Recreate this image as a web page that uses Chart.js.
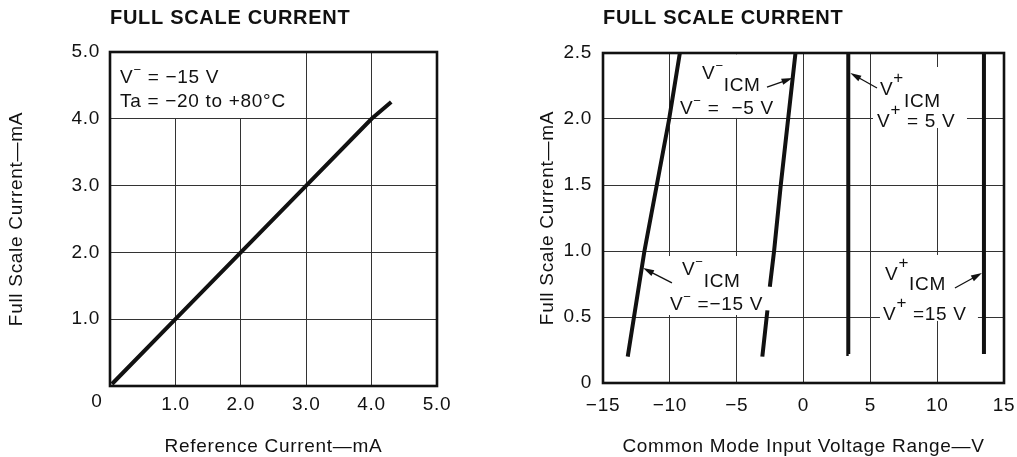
<!DOCTYPE html>
<html><head><meta charset="utf-8">
<script src="https://cdn.jsdelivr.net/npm/chart.js@4.4.1/dist/chart.umd.min.js"></script>
<style>
html,body{margin:0;padding:0;background:#fff;}
#wrap{position:relative;width:1017px;height:457px;overflow:hidden;background:#fff;}
#c1{position:absolute;left:0;top:0;}
#c2{position:absolute;left:500px;top:0;}
</style></head><body>
<div id="wrap"><canvas id="c1" width="500" height="457"></canvas><canvas id="c2" width="517" height="457"></canvas></div>
<script>
// ---------- Left chart data ----------
const leftTitle = 'FULL SCALE CURRENT';
const leftXLabel = 'Reference Current\u2014mA';
const leftYLabel = 'Full Scale Current\u2014mA';
const leftXTicks = [0, 1, 2, 3, 4, 5];
const leftYTicks = [0, 1, 2, 3, 4, 5];
const refCurrent = [0.03, 1.0, 2.0, 3.0, 4.0, 4.3];
const fullScaleCurrent = [0.03, 1.0, 2.0, 3.0, 4.0, 4.25];

// ---------- Right chart data ----------
const rightTitle = 'FULL SCALE CURRENT';
const rightXLabel = 'Common Mode Input Voltage Range\u2014V';
const rightYLabel = 'Full Scale Current\u2014mA';
const rightXTicks = [-15, -10, -5, 0, 5, 10, 15];
const rightYTicks = [0, 0.5, 1.0, 1.5, 2.0, 2.5];
const vNeg15X = [-13.15, -11.9, -10.05, -9.25];
const vNeg15Y = [0.2, 1.0, 2.0, 2.5];
const vNeg5X = [-3.08, -2.7, -2.6, -2.52, -2.2, -1.7, -1.15, -0.6];
const vNeg5Y = [0.2, 0.55, null, 0.73, 1.0, 1.5, 2.0, 2.5];
const vPos5X = [3.38, 3.35];
const vPos5Y = [0.22, 2.5];
const vPos15X = [13.5, 13.5];
const vPos15Y = [0.22, 2.5];

const FONT = '"Liberation Sans", Arial, Helvetica, sans-serif';
const INK = '#111';

// ---------- annotations (data coordinates) ----------
const leftNotes = {
  boxes: [[0.0, 5.0, 2.97, 4.012]],
  texts: [
    {x: 0.153, y: 4.536, parts: [['V'], ['\u2212', -9, 13], [' = \u221215 V']]},
    {x: 0.153, y: 4.177, parts: [['Ta = \u221220 to +80\u00b0C']]}
  ],
  arrows: []
};
const rightNotes = {
  boxes: [
    [-9.5, 2.49, -1.95, 2.008],
    [5.2, 2.394, 12.23, 1.932],
    [-10.4, 0.962, -2.3, 0.515],
    [5.72, 0.970, 13.05, 0.470]
  ],
  texts: [
    {x: -7.59, y: 2.303, parts: [['V'], ['\u2212', -9, 13], ['ICM', 12]]},
    {x: -9.24, y: 2.038, parts: [['V'], ['\u2212', -9, 13], [' =  \u22125 V']]},
    {x: 5.72, y: 2.18, parts: [['V'], ['+', -12, 17], ['ICM', 12]]},
    {x: 5.50, y: 1.939, parts: [['V'], ['+', -12, 17], [' = 5 V']]},
    {x: -9.09, y: 0.818, parts: [['V'], ['\u2212', -9, 13], ['ICM', 12]]},
    {x: -9.99, y: 0.553, parts: [['V'], ['\u2212', -9, 13], [' =\u221215 V']]},
    {x: 6.10, y: 0.780, parts: [['V'], ['+', -12, 17], ['ICM', 10]]},
    {x: 5.95, y: 0.477, parts: [['V'], ['+', -12, 17], [' =15 V']]}
  ],
  arrows: [
    [-2.73, 2.242, -0.82, 2.31],
    [5.50, 2.235, 3.50, 2.348],
    [-9.84, 0.758, -12.0, 0.871],
    [11.33, 0.72, 13.35, 0.833]
  ]
};

function drawParts(ctx, x, y, parts) {
  let cx = x;
  for (const p of parts) {
    const t = p[0], dy = p[1] || 0, size = p[2] || 19;
    ctx.font = size + 'px ' + FONT;
    ctx.fillText(t, cx, y + dy);
    cx += ctx.measureText(t).width;
  }
}
function drawArrow(ctx, x1, y1, x2, y2) {
  const ang = Math.atan2(y2 - y1, x2 - x1);
  const L = 11, W = 3.2;
  ctx.beginPath();
  ctx.moveTo(x1, y1);
  ctx.lineTo(x2 - Math.cos(ang) * L * 0.6, y2 - Math.sin(ang) * L * 0.6);
  ctx.lineWidth = 1.3;
  ctx.strokeStyle = INK;
  ctx.stroke();
  ctx.beginPath();
  ctx.moveTo(x2, y2);
  ctx.lineTo(x2 - Math.cos(ang) * L + Math.sin(ang) * W, y2 - Math.sin(ang) * L - Math.cos(ang) * W);
  ctx.lineTo(x2 - Math.cos(ang) * L - Math.sin(ang) * W, y2 - Math.sin(ang) * L + Math.cos(ang) * W);
  ctx.closePath();
  ctx.fillStyle = INK;
  ctx.fill();
}

function notesPlugin(notes, cornerZero) {
  return {
    id: 'notes',
    beforeDraw(chart) { chart.ctx.letterSpacing = '0.7px'; },
    beforeDatasetsDraw(chart) {
      const {ctx, scales: {x, y}} = chart;
      ctx.save();
      ctx.fillStyle = '#fff';
      for (const b of notes.boxes) {
        const x1 = x.getPixelForValue(b[0]), y1 = y.getPixelForValue(b[1]);
        const x2 = x.getPixelForValue(b[2]), y2 = y.getPixelForValue(b[3]);
        ctx.fillRect(Math.min(x1, x2), Math.min(y1, y2), Math.abs(x2 - x1), Math.abs(y2 - y1));
      }
      ctx.restore();
    },
    afterDraw(chart) {
      const {ctx, chartArea: a, scales: {x, y}} = chart;
      ctx.save();
      ctx.strokeStyle = INK;
      ctx.lineWidth = 2.6;
      ctx.strokeRect(a.left, a.top, a.right - a.left, a.bottom - a.top);
      ctx.fillStyle = INK;
      ctx.textAlign = 'left';
      ctx.textBaseline = 'alphabetic';
      for (const t of notes.texts) {
        drawParts(ctx, x.getPixelForValue(t.x), y.getPixelForValue(t.y), t.parts);
      }
      for (const r of notes.arrows) {
        drawArrow(ctx, x.getPixelForValue(r[0]), y.getPixelForValue(r[1]),
                  x.getPixelForValue(r[2]), y.getPixelForValue(r[3]));
      }
      if (cornerZero) {
        ctx.font = '19px ' + FONT;
        ctx.textAlign = 'center';
        ctx.textBaseline = 'middle';
        ctx.fillStyle = INK;
        ctx.fillText('0', x.getPixelForValue(0) - 13, a.bottom + 16);
      }
      ctx.restore();
    }
  };
}

function pts(xs, ys) { return xs.map((v, i) => ({x: v, y: ys[i]})); }

function makeOptions(cfg) {
  return {
    responsive: false, animation: false, devicePixelRatio: 1,
    layout: {padding: {left: 0, right: cfg.padRight, top: 0, bottom: 0}},
    plugins: {
      legend: {display: false}, tooltip: {enabled: false},
      title: {display: true, text: cfg.title, align: 'start', fullSize: false, color: INK,
        font: {family: FONT, size: 20, weight: 'bold'}, padding: {top: 6, bottom: cfg.titleBottom}}
    },
    scales: {
      x: {
        type: 'linear', min: cfg.xTicks[0], max: cfg.xTicks[cfg.xTicks.length - 1],
        afterBuildTicks: s => { s.ticks = cfg.xTicks.map(v => ({value: v})); },
        afterFit: s => { s.height = cfg.xHeight; s.paddingRight = 0; s.paddingLeft = 0; },
        grid: {color: '#333', lineWidth: 1, drawTicks: false},
        border: {display: false},
        ticks: {color: INK, font: {family: FONT, size: 19}, padding: cfg.xPad, maxRotation: 0, autoSkip: false, callback: cfg.xFmt},
        title: {display: true, text: cfg.xLabel, color: INK, font: {family: FONT, size: 19}, padding: {top: 0, bottom: -1}}
      },
      y: {
        type: 'linear', min: cfg.yTicks[0], max: cfg.yTicks[cfg.yTicks.length - 1],
        afterBuildTicks: s => { s.ticks = cfg.yTicks.map(v => ({value: v})); },
        afterFit: s => { s.width = cfg.yWidth; },
        grid: {color: '#333', lineWidth: 1, drawTicks: false},
        border: {display: false},
        ticks: {color: INK, font: {family: FONT, size: 19}, padding: cfg.yPad, autoSkip: false, callback: cfg.yFmt},
        title: {display: true, text: cfg.yLabel, color: INK, font: {family: FONT, size: 19}, padding: {top: cfg.yTitlePad, bottom: 0}}
      }
    }
  };
}

const lineStyle = {showLine: true, borderColor: INK, borderWidth: 4, pointRadius: 0, fill: false, spanGaps: false, tension: 0};

new Chart(document.getElementById('c1'), {
  type: 'scatter',
  data: {datasets: [Object.assign({label: 'Full Scale Current', data: pts(refCurrent, fullScaleCurrent)}, lineStyle)]},
  options: makeOptions({
    title: leftTitle, xLabel: leftXLabel, yLabel: leftYLabel, xTicks: leftXTicks, yTicks: leftYTicks,
    padRight: 63, titleBottom: 22, xHeight: 71, yWidth: 110, xPad: 7, yPad: 10, yTitlePad: 5,
    xFmt: v => v === 0 ? '' : v.toFixed(1),
    yFmt: v => v === 0 ? '' : v.toFixed(1)
  }),
  plugins: [notesPlugin(leftNotes, true)]
});

new Chart(document.getElementById('c2'), {
  type: 'scatter',
  data: {datasets: [
    Object.assign({label: 'V- = -15 V', data: pts(vNeg15X, vNeg15Y)}, lineStyle),
    Object.assign({label: 'V- = -5 V', data: pts(vNeg5X, vNeg5Y)}, lineStyle),
    Object.assign({label: 'V+ = 5 V', data: pts(vPos5X, vPos5Y)}, lineStyle),
    Object.assign({label: 'V+ = 15 V', data: pts(vPos15X, vPos15Y)}, lineStyle)
  ]},
  options: makeOptions({
    title: rightTitle, xLabel: rightXLabel, yLabel: rightYLabel, xTicks: rightXTicks, yTicks: rightYTicks,
    padRight: 13, titleBottom: 23, xHeight: 74, yWidth: 103, xPad: 11, yPad: 11, yTitlePad: 36,
    xFmt: v => v < 0 ? '\u2212' + Math.abs(v) : String(v),
    yFmt: v => v === 0 ? '0' : v.toFixed(1)
  }),
  plugins: [notesPlugin(rightNotes, false)]
});
</script>
</body></html>
